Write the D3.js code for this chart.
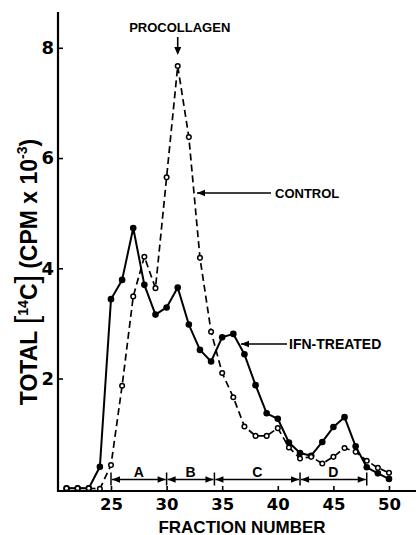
<!DOCTYPE html>
<html><head><meta charset="utf-8">
<script src="https://cdn.jsdelivr.net/npm/d3@7"></script>
<style>html,body{margin:0;padding:0;background:#fff;} svg{display:block;}</style>
</head><body>
<svg id="chart" width="416" height="535"></svg>
<script>
// ---- data ----
const fractions = [21,22,23,24,25,26,27,28,29,30,31,32,33,34,35,36,37,38,39,40,41,42,43,44,45,46,47,48,49,50];
const ifnTreated = [0.01,0.01,0.01,0.40,3.44,3.79,4.73,3.70,3.16,3.29,3.65,2.98,2.52,2.31,2.75,2.81,2.44,1.88,1.37,1.27,0.84,0.65,0.60,0.85,1.12,1.30,0.77,0.39,0.28,0.18];
const control    = [0.01,0.01,0.01,0.00,0.43,1.87,3.49,4.21,3.64,5.65,7.67,6.38,4.19,2.85,2.10,1.66,1.13,0.96,0.96,1.10,0.75,0.55,0.58,0.46,0.58,0.74,0.67,0.51,0.38,0.29];
const xTicks = [25,30,35,40,45,50];
const yTicks = [2,4,6,8];
const regionBounds = [25,30,34.3,42,48];
const regionLabels = ["A","B","C","D"];
const peakFraction = 31;

// ---- layout ----
const svg = d3.select("#chart");
svg.append("rect").attr("width",416).attr("height",535).attr("fill","#fff");
const x = d3.scaleLinear().domain([25,50]).range([111,389]);
const y = d3.scaleLinear().domain([0,8]).range([488.8,47.8]);
const axisX = 58, axisY = 491;
const textFont = "'Liberation Sans', Arial, sans-serif";
const numFont = "'DejaVu Sans', sans-serif";

// axes lines
svg.append("line").attr("x1",axisX).attr("x2",axisX).attr("y1",12).attr("y2",axisY+1)
  .attr("stroke","#000").attr("stroke-width",2.2);
svg.append("line").attr("x1",axisX-1).attr("x2",416).attr("y1",axisY).attr("y2",axisY)
  .attr("stroke","#000").attr("stroke-width",2.2);

// x axis ticks
const gx = svg.append("g").attr("transform",`translate(0,${axisY})`)
  .call(d3.axisBottom(x).tickValues(xTicks).tickSize(-5).tickSizeOuter(0).tickFormat(d3.format("d")));
gx.select(".domain").remove();
gx.selectAll(".tick line").attr("stroke","#000").attr("stroke-width",1.6);
gx.selectAll(".tick text").attr("y",19).attr("dy","0").attr("fill","#000")
  .style("font-family",numFont).style("font-weight","bold").style("font-size","16.5px");

// y axis ticks
const gy = svg.append("g").attr("transform",`translate(${axisX},0)`)
  .call(d3.axisLeft(y).tickValues(yTicks).tickSize(-5).tickSizeOuter(0).tickPadding(4).tickFormat(d3.format("d")));
gy.select(".domain").remove();
gy.selectAll(".tick line").attr("stroke","#000").attr("stroke-width",1.6);
gy.selectAll(".tick text").attr("fill","#000")
  .style("font-family",numFont).style("font-weight","bold").style("font-size","18px");

// x label
svg.append("text").attr("x",242).attr("y",532.5).attr("text-anchor","middle")
  .style("font-family",textFont).style("font-weight","bold").style("font-size","17px")
  .text("FRACTION NUMBER");

// y label
const yl = svg.append("text").attr("transform","translate(37,272) rotate(-90)")
  .attr("text-anchor","middle")
  .style("font-family",textFont).style("font-weight","bold").style("font-size","23px");
yl.append("tspan").text("TOTAL\u00A0");
yl.append("tspan").style("font-size","31px").style("font-weight","normal").text("[");
yl.append("tspan").style("font-size","14px").attr("dy",-9).text("14");
yl.append("tspan").attr("dy",9).text("C");
yl.append("tspan").style("font-size","31px").style("font-weight","normal").text("]");
yl.append("tspan").attr("dx",6).text("(CPM x 10");
yl.append("tspan").style("font-size","14px").attr("dy",-10).text("-3");
yl.append("tspan").attr("dy",10).text(")");

// region brackets
const by = 479.5;
function arrowHead(tipX, tipY, dir) { // dir: -1 points left, +1 points right
  const L = 8, W = 3.2;
  return `M${tipX},${tipY} L${tipX - dir*L},${tipY - W} L${tipX - dir*L},${tipY + W} Z`;
}
const rg = svg.append("g");
regionBounds.forEach(b => {
  rg.append("line").attr("x1",x(b)).attr("x2",x(b)).attr("y1",by-7).attr("y2",by+6)
    .attr("stroke","#000").attr("stroke-width",1.5);
});
regionLabels.forEach((lab,i) => {
  const x0 = x(regionBounds[i]) + 1, x1 = x(regionBounds[i+1]) - 1;
  rg.append("line").attr("x1",x0).attr("x2",x1).attr("y1",by).attr("y2",by)
    .attr("stroke","#000").attr("stroke-width",1.4);
  rg.append("path").attr("d",arrowHead(x0,by,-1)).attr("fill","#000");
  rg.append("path").attr("d",arrowHead(x1,by,1)).attr("fill","#000");
  rg.append("text").attr("x",(x(regionBounds[i])+x(regionBounds[i+1]))/2).attr("y",by-3)
    .attr("text-anchor","middle")
    .style("font-family",textFont).style("font-weight","bold").style("font-size","14px")
    .text(lab);
});

// series
const ifnData = fractions.map((f,i)=>({f, v: ifnTreated[i]}));
const ctlData = fractions.map((f,i)=>({f, v: control[i]}));
const line = d3.line().x(d=>x(d.f)).y(d=>y(d.v));

svg.append("path").datum(ctlData).attr("d",line).attr("fill","none")
  .attr("stroke","#000").attr("stroke-width",1.7).attr("stroke-dasharray","7,4");
svg.append("path").datum(ifnData).attr("d",line).attr("fill","none")
  .attr("stroke","#000").attr("stroke-width",2).attr("stroke-linejoin","round");

svg.append("g").selectAll("circle").data(ifnData).join("circle")
  .attr("cx",d=>x(d.f)).attr("cy",d=>y(d.v)).attr("r",3.3).attr("fill","#000");
svg.append("g").selectAll("circle").data(ctlData).join("circle")
  .attr("cx",d=>x(d.f)).attr("cy",d=>y(d.v)).attr("r",2.3)
  .attr("fill","#fff").attr("stroke","#000").attr("stroke-width",1.5);

// annotations
const ann = svg.append("g");
const px = x(peakFraction);
ann.append("text").attr("x",px+2).attr("y",31.5).attr("text-anchor","middle")
  .style("font-family",textFont).style("font-weight","bold").style("font-size","13px")
  .text("PROCOLLAGEN");
ann.append("line").attr("x1",px).attr("x2",px).attr("y1",37).attr("y2",48)
  .attr("stroke","#000").attr("stroke-width",1.6);
ann.append("path").attr("d",`M${px},55 L${px-3.5},47 L${px+3.5},47 Z`).attr("fill","#000");

// CONTROL
const cy0 = 193;
ann.append("line").attr("x1",197).attr("x2",271).attr("y1",cy0).attr("y2",cy0)
  .attr("stroke","#000").attr("stroke-width",1.6);
ann.append("path").attr("d",arrowHead(197,cy0,-1)).attr("fill","#000");
ann.append("text").attr("x",275).attr("y",cy0+5).style("font-family",textFont)
  .style("font-weight","bold").style("font-size","13px").text("CONTROL");

// IFN-TREATED
const iy0 = 344;
ann.append("line").attr("x1",241).attr("x2",287).attr("y1",iy0).attr("y2",iy0)
  .attr("stroke","#000").attr("stroke-width",1.6);
ann.append("path").attr("d",arrowHead(241,iy0,-1)).attr("fill","#000");
ann.append("text").attr("x",289).attr("y",iy0+5).style("font-family",textFont)
  .style("font-weight","bold").style("font-size","14px").text("IFN-TREATED");
</script>
</body></html>
